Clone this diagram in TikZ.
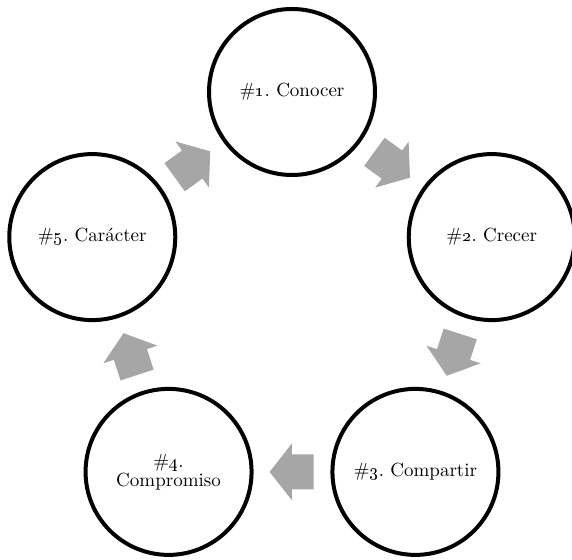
\documentclass[tikz,border=0pt]{standalone}
\usetikzlibrary{calc,shapes.arrows}
\definecolor{arrowgray}{HTML}{A6A6A6}
\begin{document}
\begin{tikzpicture}
  [x=0.5pt,y=0.5pt,
  stage/.style={circle,draw,line width=2pt,minimum size=83pt,inner sep=0pt,
    align=center,font=\fontsize{9.5}{9.5}\selectfont\frenchspacing},
  flow/.style={single arrow,draw=none,fill=arrowgray,inner xsep=0pt,
    inner ysep=8.5pt,minimum width=0pt,minimum height=22pt,anchor=tail,
    single arrow head extend=5.5pt,single arrow tip angle=103.6,
    single arrow head indent=0pt}]

  \useasboundingbox (0,0) rectangle (572,560);
  \coordinate (o) at (292,258);

  \node[stage] (c1) at ($(o)+(90:210)$) {\#\oldstylenums{1}. Conocer};
  \node[stage] (c2) at ($(o)+(18:210)$) {\#\oldstylenums{2}. Crecer};
  \node[stage] (c3) at ($(o)+(-54:210)$) {\#\oldstylenums{3}. Compartir};
  \node[stage] (c4) at ($(o)+(-126:210)$) {\#\oldstylenums{4}.\\Compromiso};
  \node[stage] (c5) at ($(o)+(162:210)$) {\#\oldstylenums{5}. Carácter};

  % tail of each arrow half its length before the midpoint
  \node[flow,rotate=-36] (a12) at ($(c1)!0.5!(c2)!11pt!(c1)$) {};
  \node[flow,rotate=-108] (a23) at ($(c2)!0.5!(c3)!11pt!(c2)$) {};
  \node[flow,rotate=180] (a34) at ($(c3)!0.5!(c4)!11pt!(c3)$) {};
  \node[flow,rotate=108] (a45) at ($(c4)!0.5!(c5)!11pt!(c4)$) {};
  \node[flow,rotate=36] (a51) at ($(c5)!0.5!(c1)!11pt!(c5)$) {};

\end{tikzpicture}
\end{document}
